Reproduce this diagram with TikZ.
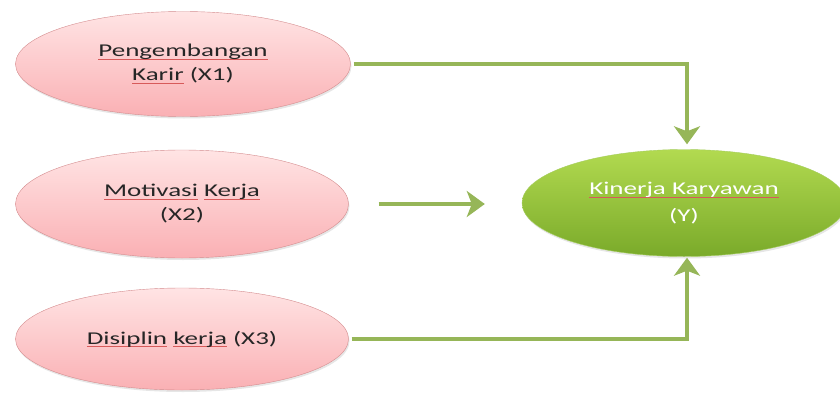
\documentclass[tikz,border=0pt]{standalone}
\usepackage{fontspec}
\setmainfont[FakeStretch=1.5]{Carlito}
\usepackage{tikz}
\usetikzlibrary{shapes,arrows.meta,shadows}

\definecolor{pinktop}{RGB}{255,228,228}
\definecolor{pinkbot}{RGB}{250,176,180}
\definecolor{pinkline}{RGB}{212,140,142}
\definecolor{greentop}{RGB}{178,218,80}
\definecolor{greenbot}{RGB}{122,170,42}
\definecolor{greenline}{RGB}{165,205,95}
\definecolor{linkgreen}{RGB}{150,182,88}
\definecolor{spellred}{RGB}{215,90,90}

% red spell-check line under a word
\newcommand\spell[1]{\setbox0\hbox{#1}\rlap{\textcolor{spellred}{\rule[-3pt]{\wd0}{0.7pt}}}\box0\relax}

\tikzset{
  factor/.style={ellipse, draw=pinkline, top color=pinktop, bottom color=pinkbot,
    inner sep=0pt, align=center, text=black!85,
    drop shadow={opacity=0.2, shadow xshift=1pt, shadow yshift=-2pt},
    font=\fontsize{18}{24}\selectfont},
  result/.style={ellipse, draw=greenline, top color=greentop, bottom color=greenbot,
    inner sep=0pt, align=center, text=white,
    drop shadow={opacity=0.2, shadow xshift=1pt, shadow yshift=-2pt},
    font=\fontsize{18}{27}\selectfont},
  link/.style={draw=linkgreen, line width=4pt,
    -{Stealth[width=26pt,length=18pt,inset=5pt]}}
}

\begin{document}
\begin{tikzpicture}[x=1pt, y=1pt]
\useasboundingbox (0,0) rectangle (840,392);
\node (x1) at (183, 328) [factor, minimum width=335pt, minimum height=105pt] {\spell{Pengembangan}\\\spell{Karir} (X1)};
\node (x2) at (182, 188) [factor, minimum width=333pt, minimum height=108pt] {\spell{Motivasi} \spell{Kerja}\\(X2)};
\node (x3) at (182, 53) [factor, minimum width=333pt, minimum height=102pt] {\spell{Disiplin} \spell{kerja} (X3)};
\node (y) at (684, 189) [result, minimum width=324pt, minimum height=107pt] {\spell{Kinerja Karyawan}\\(Y)};
\draw [link, shorten <=3pt, shorten >=5pt] (x1.east) -| ([xshift=3pt]y.north);
\draw [link, shorten <=30pt, shorten >=37pt] (x2.east) -- (x2.east -| y.west);
\draw [link, shorten <=3pt, shorten >=1pt] (x3.east) -| ([xshift=3pt]y.south);
\end{tikzpicture}
\end{document}
